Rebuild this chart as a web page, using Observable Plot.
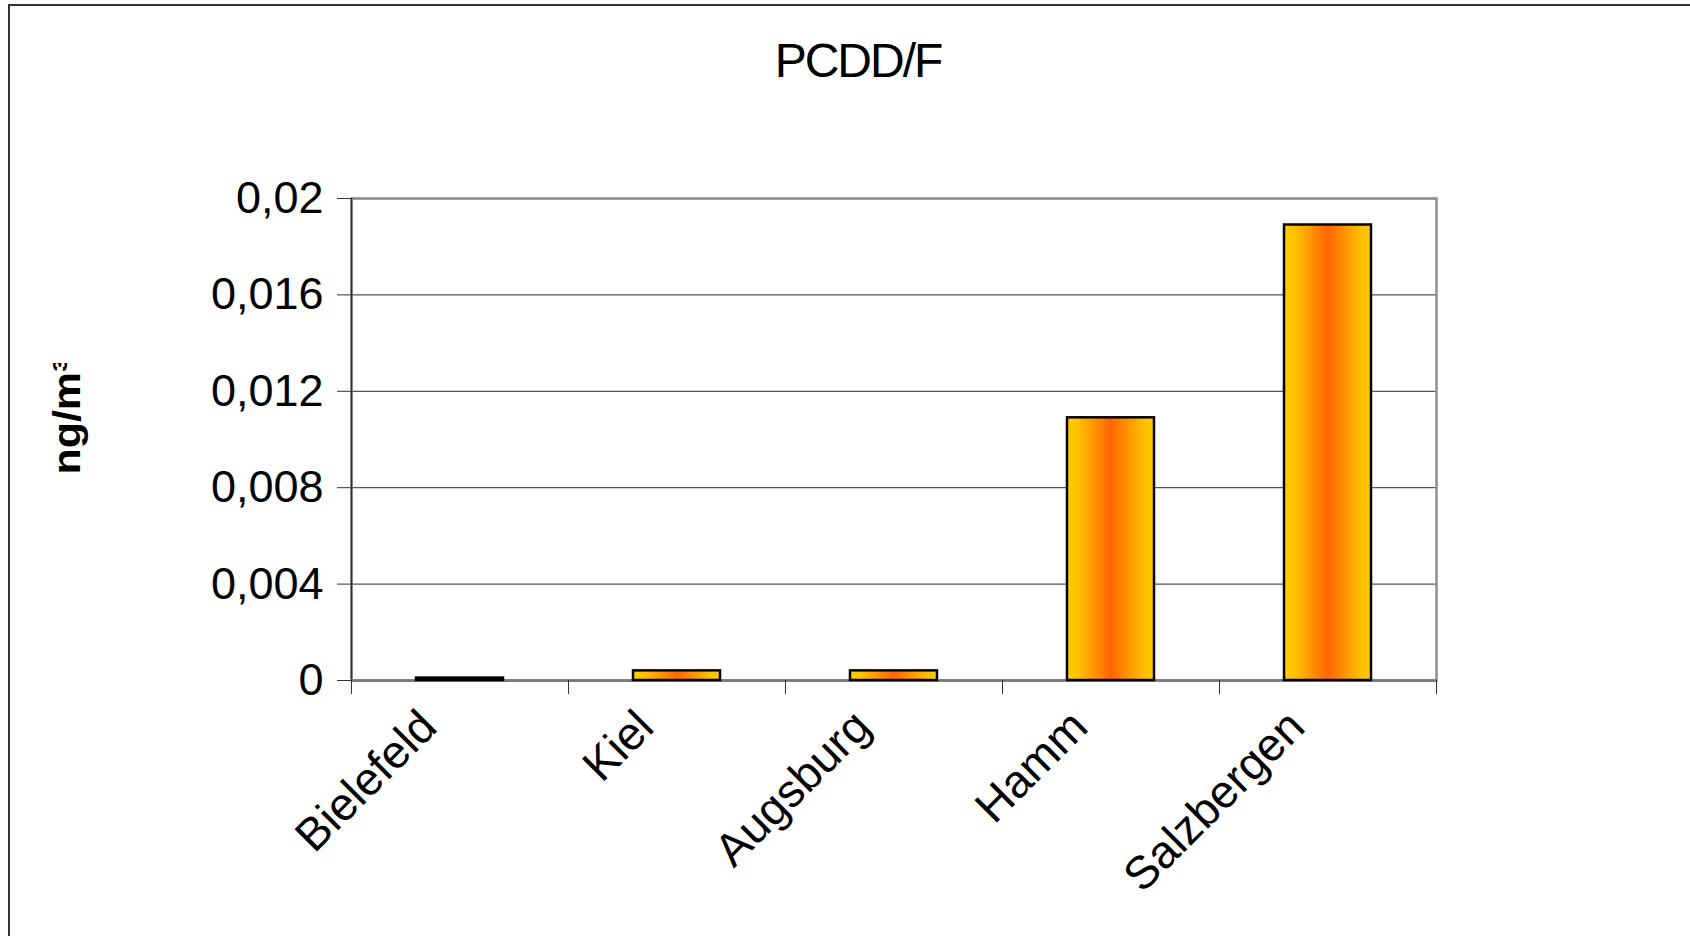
<!DOCTYPE html>
<html>
<head>
<meta charset="utf-8">
<script src="https://cdn.jsdelivr.net/npm/d3@7"></script>
<script src="https://cdn.jsdelivr.net/npm/@observablehq/plot@0.6"></script>
<style>
  html, body { margin: 0; padding: 0; background: #fff; }
  #chart { position: relative; width: 1690px; height: 936px; overflow: hidden;
           font-family: "Liberation Sans", Arial, sans-serif; }
  #frame { position: absolute; left: 8px; top: 4px; width: 1700px; height: 950px;
           border-top: 2px solid #333; border-left: 2px solid #333; }
  #title { position: absolute; left: 0; top: 37px; width: 1716px; text-align: center;
           font-size: 48px; line-height: 48px; letter-spacing: -2px; color: #000; }
  #chart svg { position: absolute; left: 0; top: 0; }
</style>
</head>
<body>
<div id="chart">
  <div id="frame"></div>
  <div id="title"></div>
</div>
<script>
// PCDD/F concentrations per site (ng/m³)
const title = "PCDD/F";
const unit = "ng/m³";
const sites = ["Bielefeld", "Kiel", "Augsburg", "Hamm", "Salzbergen"];
const pcddf = [0.0001, 0.0004, 0.0004, 0.0109, 0.0189];
const yTicks = [0, 0.004, 0.008, 0.012, 0.016, 0.02];
const yTickLabels = ["0", "0,004", "0,008", "0,012", "0,016", "0,02"];

const rows = sites.map((site, i) => ({site, value: pcddf[i]}));

// layout
const W = 1690, H = 936;
const mL = 351, mR = 254, mT = 198, mB = 256;
const step = (W - mL - mR) / sites.length;
const fontFamily = '"Liberation Sans", Arial, sans-serif';

document.getElementById("title").textContent = title;

const chart = Plot.plot({
  width: W,
  height: H,
  marginLeft: mL,
  marginRight: mR,
  marginTop: mT,
  marginBottom: mB,
  style: {fontFamily, fontSize: "44px", color: "#000", background: "transparent", overflow: "visible"},
  x: {domain: sites, paddingInner: 0.6, paddingOuter: 0.3, label: null},
  y: {domain: [0, 0.02], label: null},
  marks: [
    Plot.gridY({ticks: yTicks, stroke: "#555", strokeOpacity: 1, strokeWidth: 1.3}),
    Plot.frame({stroke: "#8f8f8f", strokeWidth: 2.5}),
    Plot.ruleX([sites[0]], {dx: -step / 2, stroke: "#333", strokeWidth: 1.6}),
    Plot.ruleY([0], {stroke: "#777", strokeWidth: 2.5}),
    Plot.axisY({ticks: yTicks, tickSize: 14, tickPadding: 14, stroke: "#333",
                tickFormat: (d) => yTickLabels[yTicks.indexOf(d)], fontSize: 45}),
    // category boundary ticks under the baseline
    Plot.axisX({ticks: sites, tickSize: 14, dx: -step / 2, stroke: "#333", tickFormat: () => ""}),
    Plot.axisX({ticks: [sites[sites.length - 1]], tickSize: 14, dx: step / 2, stroke: "#333", tickFormat: () => ""}),
    // rotated site names
    Plot.text(rows, {x: "site", text: "site", frameAnchor: "bottom", rotate: -45,
                     textAnchor: "end", lineAnchor: "bottom", dx: -21, dy: 49, fontSize: 46}),
    // unit label, read bottom to top
    Plot.text([unit], {text: (d) => d, frameAnchor: "left", rotate: -90, textAnchor: "start",
                       dx: -284, dy: 35, fontWeight: "bold", fontSize: 39}),
    Plot.barY(rows, {x: "site", y: "value", fill: "url(#barFill)", stroke: "#000", strokeWidth: 2.5})
  ]
});

// bar gradient and clip for the unit label
const svg = d3.select(chart);
const defs = svg.insert("defs", ":first-child");
const grad = defs.append("linearGradient").attr("id", "barFill")
  .attr("x1", 0).attr("x2", 1).attr("y1", 0).attr("y2", 0);
[[0, "#ffcc00"], [0.12, "#ffc400"], [0.5, "#ff6600"], [0.88, "#ffbe00"], [1, "#ffcc00"]]
  .forEach(([o, c]) => grad.append("stop").attr("offset", o).attr("stop-color", c));

defs.append("clipPath").attr("id", "unitClip").attr("clipPathUnits", "userSpaceOnUse")
  .append("rect").attr("x", 0).attr("y", 363).attr("width", mL).attr("height", H);
svg.selectAll("text").filter(function () { return this.textContent === unit; }).each(function () {
  // the unit label is drawn slightly stretched along its reading direction
  this.setAttribute("transform", this.getAttribute("transform") + " scale(1.1,1)");
  const g = this.parentNode;
  const wrap = document.createElementNS("http://www.w3.org/2000/svg", "g");
  wrap.setAttribute("clip-path", "url(#unitClip)");
  g.parentNode.insertBefore(wrap, g);
  wrap.appendChild(g);
});

document.getElementById("chart").appendChild(chart);
</script>
</body>
</html>
